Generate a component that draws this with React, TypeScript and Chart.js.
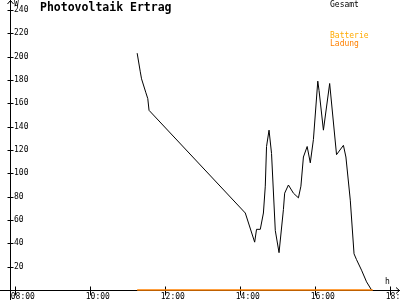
import { useEffect, useRef } from "react";
import { Chart, registerables } from "chart.js";

Chart.register(...registerables);

// ---- data ----
const gesamtTimes = [
  "11:15", "11:20", "11:22", "11:29", "11:32", "11:34", "14:08", "14:23", "14:26", "14:32",
  "14:37", "14:40", "14:42", "14:46", "14:50", "14:56", "15:02", "15:09", "15:11", "15:17",
  "15:25", "15:33", "15:37", "15:41", "15:47", "15:52", "15:57", "16:04", "16:06", "16:13",
  "16:23", "16:34", "16:45", "16:49", "16:56", "17:02", "17:06", "17:14", "17:22", "17:30",
];
const gesamtWatts = [
  203, 187, 181, 169, 164, 154, 66, 41, 52, 52,
  66, 89, 123, 137, 117, 51, 32, 69, 83, 90,
  83, 79, 89, 114, 123, 109, 129, 179, 171, 137,
  177, 116, 124, 114, 77, 31, 26, 17, 7, 0,
];
const ladungTimes = ["11:15", "17:32"];
const ladungWatts = [0, 0];

const xTickHours = [8, 10, 12, 14, 16, 18];
const yTickValues = [20, 40, 60, 80, 100, 120, 140, 160, 180, 200, 220, 240];

const title = "Photovoltaik Ertrag";
const legendItems = [
  { label: "Gesamt", color: "#000000" },
  { label: "Batterie", color: "#FFAA00" },
  { label: "Ladung", color: "#FF8000" },
];
const yUnit = "W";
const xUnit = "h";

const toHours = (s: string) => {
  const [h, m] = s.split(":").map(Number);
  return h + m / 60;
};
const pad2 = (n: number) => (n < 10 ? "0" + n : String(n));
const hourLabel = (v: number) => pad2(v) + ":00";

const MONO = '"DejaVu Sans Mono", "Liberation Mono", monospace';

const decorPlugin = {
  id: "decor",
  beforeDatasetsDraw(chart: any) {
    const { ctx, scales } = chart;
    const x = scales.x;
    const y = scales.y;
    const ax = Math.round(x.left) + 0.5;
    const ay = Math.round(y.getPixelForValue(0)) + 0.5;
    ctx.save();
    ctx.strokeStyle = "#000";
    ctx.lineWidth = 1;
    ctx.beginPath();
    // axes
    ctx.moveTo(ax, 0);
    ctx.lineTo(ax, 300);
    ctx.moveTo(0, ay);
    ctx.lineTo(400, ay);
    // arrows
    ctx.moveTo(ax - 3, 4);
    ctx.lineTo(ax, 0.5);
    ctx.lineTo(ax + 3, 4);
    ctx.moveTo(396, ay - 3);
    ctx.lineTo(399.5, ay);
    ctx.lineTo(396, ay + 3);
    // y ticks
    for (const v of yTickValues) {
      const py = Math.round(y.getPixelForValue(v)) + 0.5;
      ctx.moveTo(ax - 3, py);
      ctx.lineTo(ax + 3, py);
    }
    // x ticks
    for (const h of xTickHours) {
      const px = Math.round(x.getPixelForValue(h)) + 0.5;
      ctx.moveTo(px, ay - 4);
      ctx.lineTo(px, ay + 5);
    }
    ctx.stroke();
    // x tick labels
    ctx.fillStyle = "#000";
    ctx.font = `8px ${MONO}`;
    ctx.textAlign = "center";
    ctx.textBaseline = "top";
    for (const h of xTickHours) {
      const px = x.getPixelForValue(h);
      ctx.fillText(hourLabel(h), px + 7.5, ay + 2.5);
    }
    ctx.restore();
  },
  afterDraw(chart: any) {
    const { ctx } = chart;
    ctx.save();
    ctx.textBaseline = "top";
    ctx.textAlign = "left";
    ctx.fillStyle = "#000";
    ctx.font = `bold 11.5px ${MONO}`;
    ctx.fillText(title, 40, 2);
    ctx.font = `8px ${MONO}`;
    ctx.fillText(yUnit, 14, 0);
    ctx.fillText(xUnit, 385, 278);
    ctx.fillStyle = legendItems[0].color;
    ctx.fillText(legendItems[0].label, 330, 1);
    ctx.fillStyle = legendItems[1].color;
    ctx.fillText(legendItems[1].label, 330, 32);
    ctx.fillStyle = legendItems[2].color;
    ctx.fillText(legendItems[2].label, 330, 40);
    ctx.restore();
  },
};

export default function App() {
  const ref = useRef<HTMLCanvasElement | null>(null);

  useEffect(() => {
    if (!ref.current) return;
    const chart = new Chart(ref.current, {
      type: "line",
      data: {
        datasets: [
          {
            label: "Ladung",
            data: ladungTimes.map((t, i) => ({ x: toHours(t), y: ladungWatts[i] })),
            borderColor: legendItems[2].color,
            borderWidth: 1.5,
            pointRadius: 0,
            tension: 0,
            clip: false as any,
          },
          {
            label: "Gesamt",
            data: gesamtTimes.map((t, i) => ({ x: toHours(t), y: gesamtWatts[i] })),
            borderColor: legendItems[0].color,
            borderWidth: 1,
            pointRadius: 0,
            tension: 0,
            clip: false as any,
          },
        ],
      },
      options: {
        responsive: false,
        animation: false,
        devicePixelRatio: 1,
        layout: { padding: { top: 10, left: 0, right: 0, bottom: 0 } },
        plugins: { legend: { display: false }, tooltip: { enabled: false }, title: { display: false } },
        scales: {
          x: {
            type: "linear",
            min: 7.859,
            max: 18.259,
            offset: false,
            grid: { display: false },
            border: { display: false },
            afterBuildTicks: (s: any) => {
              s.ticks = xTickHours.map((v) => ({ value: v }));
            },
            afterFit: (s: any) => {
              s.height = 10;
              s.paddingLeft = 0;
              s.paddingRight = 0;
            },
            ticks: { display: false },
          },
          y: {
            type: "linear",
            min: 0,
            max: 240,
            grid: { display: false },
            border: { display: false },
            afterBuildTicks: (s: any) => {
              s.ticks = yTickValues.map((v) => ({ value: v }));
            },
            afterFit: (s: any) => {
              s.width = 10;
              s.paddingTop = 0;
              s.paddingBottom = 0;
            },
            ticks: {
              mirror: true,
              padding: 4,
              color: "#000",
              font: { family: MONO, size: 8 },
              callback: (v: any) => String(v),
            },
          },
        },
      },
      plugins: [decorPlugin],
    });
    return () => chart.destroy();
  }, []);

  return (
    <div style={{ position: "absolute", left: 0, top: 0, width: 400, height: 300, background: "#fff" }}>
      <canvas ref={ref} width={400} height={300} style={{ display: "block" }} />
    </div>
  );
}
